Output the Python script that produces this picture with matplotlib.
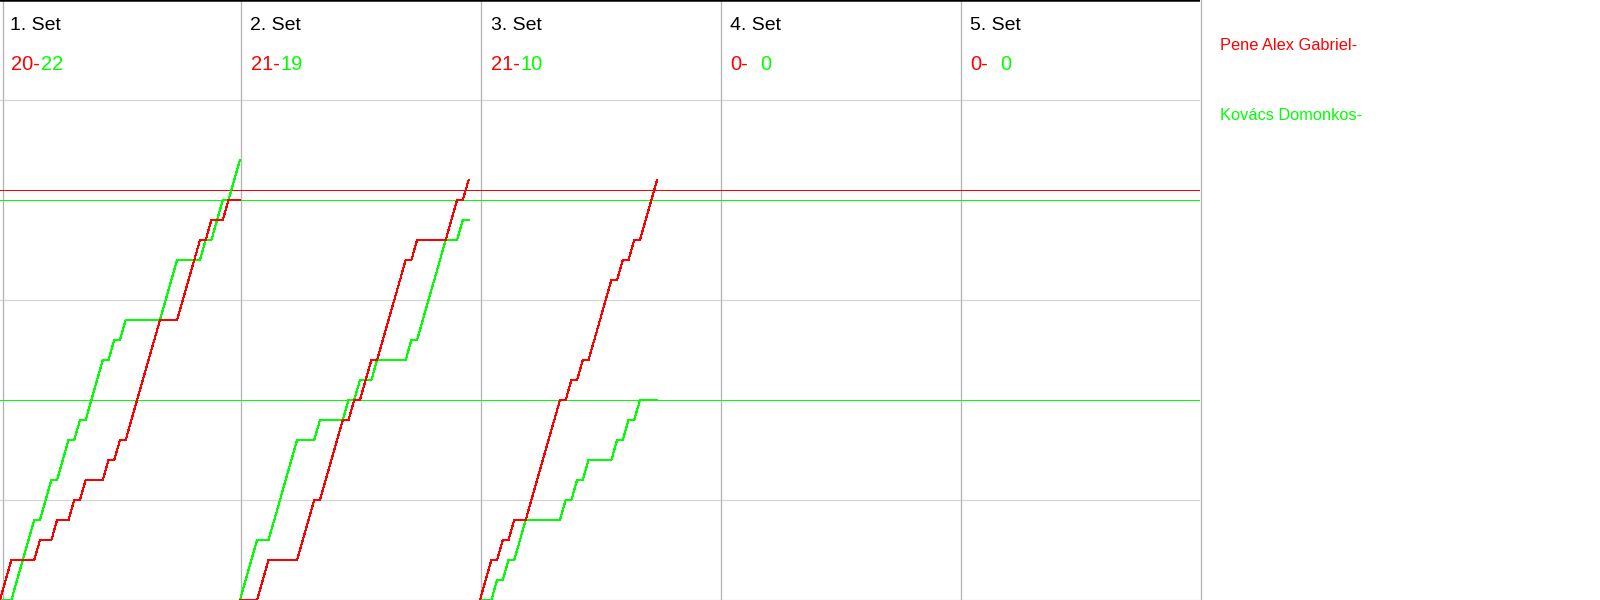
import matplotlib
matplotlib.use("Agg")
import matplotlib.pyplot as plt
import numpy as np

plt.rcParams['font.family'] = ['Liberation Sans', 'DejaVu Sans']

# ---------------- data ----------------
set_labels = ["1. Set", "2. Set", "3. Set", "4. Set", "5. Set"]
red_final = [20, 21, 21, 0, 0]
green_final = [22, 19, 10, 0, 0]
# rally winners per set (R = red player, G = green player)
set1_rallies = "RR GGGG R GG R GG R G R GGG R G R G RRRRRR GGG RRRR G R GG R GG"
set2_rallies = "GGG RR GGGGG RRR G RRRR G R G RR G RRRRR G R GGGGG RR G R"
set3_rallies = "RR G R G R GG RRRRRR G R G R G RRRR G R G R G RRR"
set4_rallies = ""
set5_rallies = ""
rallies = [set1_rallies, set2_rallies, set3_rallies, set4_rallies, set5_rallies]
player_red = "Pene Alex Gabriel-"
player_green = "Kovács Domonkos-"
red_ref_line = 20.5
green_ref_lines = [10, 20]
grid_scores = [0, 5, 15, 25]

RED = "#ff0000"
GREEN = "#00ff00"

W, H = 1600, 600
fig = plt.figure(figsize=(16, 6), dpi=100)
ax = fig.add_axes([0, 0, 1200 / W, 1])
col_w = 42
px = 1200 / (5 * col_w)          # pixels per rally
ax.set_xlim(0, 5 * col_w)
ax.set_ylim(0, 30)
ax.axis("off")

lw1 = 72 / 100  # one pixel in points

# grid
for g in grid_scores:
    ax.axhline(g, color="#d4d4d4", lw=lw1 * 1.2, zorder=1)
for k in range(6):
    xv = max(k * col_w + 0.5 / px, 2.5 / px)
    ax.axvline(xv, color="#b4b4b4", lw=lw1 * 1.3, zorder=1, clip_on=False)
ax.axhline(30, color="black", lw=lw1 * 3.5, zorder=3, clip_on=True)

# reference lines
ax.axhline(red_ref_line, color=RED, lw=lw1, zorder=2, antialiased=False)
for g in green_ref_lines:
    ax.axhline(g, color=GREEN, lw=lw1, zorder=2, antialiased=False)

# score progression
for k, seq in enumerate(rallies):
    seq = seq.replace(" ", "")
    if not seq:
        continue
    r = np.concatenate([[0], np.cumsum([c == "R" for c in seq])])
    g = np.concatenate([[0], np.cumsum([c == "G" for c in seq])])
    x = k * col_w + np.arange(len(seq) + 1)
    ax.plot(x, g, color=GREEN, lw=lw1 * 1.1, marker="s", ms=2.0, mew=0,
            zorder=4, antialiased=False)
    ax.plot(x, r, color=RED, lw=lw1 * 1.1, marker="s", ms=2.0, mew=0,
            zorder=5, antialiased=False)

# headers
for k in range(5):
    x0 = k * col_w + 10.5 / px
    ax.text(x0, (600 - 30.5) / 20, set_labels[k], fontsize=14, color="black",
            ha="left", va="baseline")
    ax.text(x0, (600 - 70) / 20, f"{red_final[k]}-", fontsize=14.5, color=RED,
            ha="left", va="baseline")
    ax.text(x0 + 30 / px, (600 - 70) / 20, f"{green_final[k]}", fontsize=14.5,
            color=GREEN, ha="left", va="baseline")

# player names
fig.text(1220 / W, 1 - 49.5 / H, player_red, color=RED, fontsize=11.8,
         ha="left", va="baseline")
fig.text(1220 / W, 1 - 120 / H, player_green, color=GREEN, fontsize=11.8,
         ha="left", va="baseline")

fig.savefig("out.png", dpi=100)
